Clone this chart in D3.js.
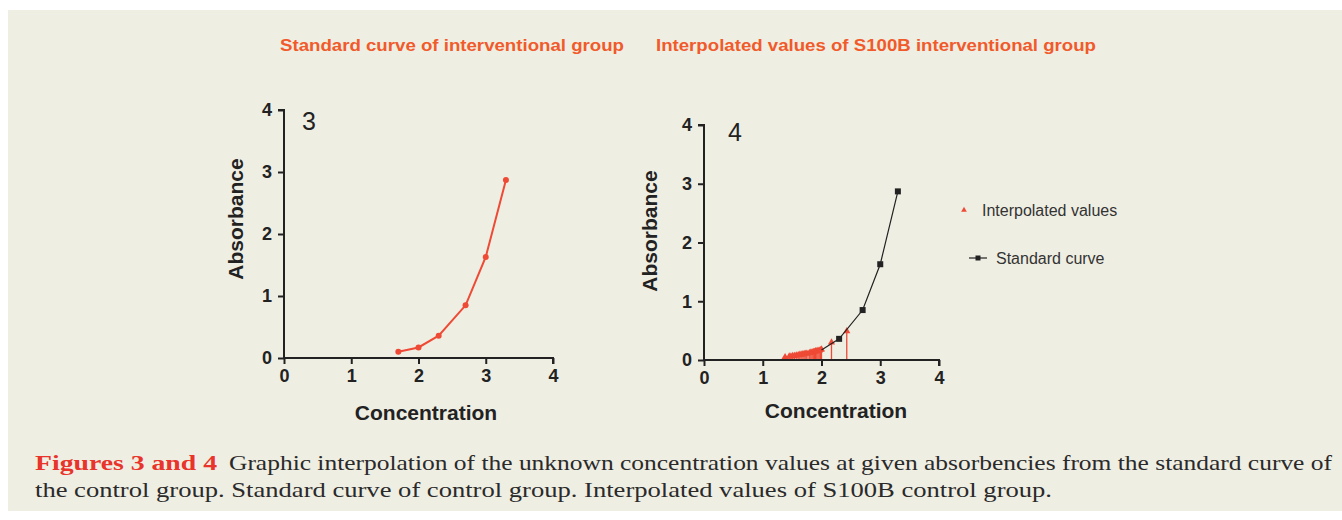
<!DOCTYPE html>
<html><head><meta charset="utf-8">
<script src="https://cdn.jsdelivr.net/npm/d3@7"></script>
<style>html,body{margin:0;padding:0;background:#fff;}svg{display:block;}</style>
</head><body>
<svg id="c" width="1342" height="520"></svg>
<script>
// ---- data ----
const titles = ["Standard curve of interventional group", "Interpolated values of S100B interventional group"];
const panelLabels = ["3", "4"];
const xTicks = [0, 1, 2, 3, 4];
const yTicks = [0, 1, 2, 3, 4];
const stdConc = [1.7, 2.0, 2.3, 2.7, 3.0, 3.3];
const stdAbs  = [0.10, 0.17, 0.36, 0.85, 1.63, 2.87];
const std2Conc = [2.0, 2.3, 2.7, 3.0, 3.3];
const std2Abs  = [0.17, 0.36, 0.85, 1.63, 2.87];
const interpConc = [1.38, 1.45, 1.48, 1.51, 1.54, 1.57, 1.60, 1.62, 1.65, 1.67, 1.70, 1.72, 1.74, 1.77, 1.80, 1.82, 1.84, 1.86, 1.88, 1.90, 1.92, 1.94, 1.96, 1.98, 2.00, 2.17, 2.43];
const interpAbs  = [0.05, 0.06, 0.06, 0.07, 0.07, 0.08, 0.08, 0.09, 0.09, 0.10, 0.10, 0.11, 0.11, 0.11, 0.12, 0.13, 0.13, 0.14, 0.14, 0.15, 0.15, 0.16, 0.16, 0.17, 0.18, 0.30, 0.49];
const legendLabels = ["Interpolated values", "Standard curve"];
const captionLead = "Figures 3 and 4";
const captionLine1 = "Graphic interpolation of the unknown concentration values at given absorbencies from the standard curve of";
const captionLine2 = "the control group. Standard curve of control group. Interpolated  values of S100B control group.";

const svg = d3.select("#c");
const RED = "#ee4a35", TITLE = "#f15a2b", INK = "#222";
svg.append("rect").attr("x", 8).attr("y", 10).attr("width", 1334).attr("height", 501).attr("fill", "#efeee3");

svg.append("text").attr("x", 280).attr("y", 51).attr("fill", TITLE)
  .attr("font-family", "Liberation Sans, Arial, sans-serif").attr("font-weight", "bold").attr("font-size", 17)
  .attr("textLength", 344).attr("lengthAdjust", "spacingAndGlyphs").text(titles[0]);
svg.append("text").attr("x", 656).attr("y", 51).attr("fill", TITLE)
  .attr("font-family", "Liberation Sans, Arial, sans-serif").attr("font-weight", "bold").attr("font-size", 17)
  .attr("textLength", 440).attr("lengthAdjust", "spacingAndGlyphs").text(titles[1]);

function drawAxes(g, x, y, label, opts) {
  const font = "Liberation Sans, Arial, sans-serif";
  const xa = g.append("g").attr("transform", `translate(0,${y.range()[0]})`)
    .call(d3.axisBottom(x).tickValues(xTicks).tickFormat(d3.format("d")).tickSize(6).tickPadding(5));
  const ya = g.append("g").attr("transform", `translate(${x.range()[0]},0)`)
    .call(d3.axisLeft(y).tickValues(yTicks).tickFormat(d3.format("d")).tickSize(6).tickPadding(6));
  [xa, ya].forEach(a => {
    a.select(".domain").attr("stroke", INK).attr("stroke-width", 2);
    a.selectAll(".tick line").attr("stroke", INK).attr("stroke-width", 2);
    a.selectAll(".tick text").attr("fill", INK).attr("font-family", font).attr("font-weight", "bold").attr("font-size", 18);
  });
  ya.select(".domain").attr("d", `M-6,${y(4)}H0V${y(0)}`);
  xa.select(".domain").attr("d", `M0,0H${x(4)-x(0)}V6`).attr("transform", `translate(${x(0)},0)`);
  g.append("text").attr("x", opts.xLabelX).attr("y", opts.xLabelY).attr("text-anchor", "middle")
    .attr("fill", INK).attr("font-family", font).attr("font-weight", "bold").attr("font-size", 21).text("Concentration");
  g.append("text").attr("transform", `translate(${opts.yLabelX},${opts.yLabelY}) rotate(-90)`).attr("text-anchor", "middle")
    .attr("fill", INK).attr("font-family", font).attr("font-weight", "bold").attr("font-size", 21).text("Absorbance");
  g.append("text").attr("x", opts.lblX).attr("y", opts.lblY).attr("fill", INK)
    .attr("font-family", font).attr("font-size", 25).text(label);
}

// ---- Chart 3 ----
const x1 = d3.scaleLinear().domain([0, 4]).range([284, 553]);
const y1 = d3.scaleLinear().domain([0, 4]).range([358, 110]);
const g1 = svg.append("g");
drawAxes(g1, x1, y1, panelLabels[0], {xLabelX: 426, xLabelY: 420, yLabelX: 243, yLabelY: 219, lblX: 302, lblY: 130});
const pts1 = stdConc.map((c, i) => [c, stdAbs[i]]);
g1.append("path").datum(pts1).attr("fill", "none").attr("stroke", RED).attr("stroke-width", 2)
  .attr("d", d3.line().x(d => x1(d[0])).y(d => y1(d[1])));
g1.selectAll("circle.p").data(pts1).join("circle").attr("cx", d => x1(d[0])).attr("cy", d => y1(d[1]))
  .attr("r", 3).attr("fill", RED);

// ---- Chart 4 ----
const x2 = d3.scaleLinear().domain([0, 4]).range([704, 939]);
const y2 = d3.scaleLinear().domain([0, 4]).range([360, 125]);
const g2 = svg.append("g");
const ip = interpConc.map((c, i) => [c, interpAbs[i]]);
g2.selectAll("line.drop").data(ip).join("line").attr("x1", d => x2(d[0])).attr("x2", d => x2(d[0]))
  .attr("y1", d => y2(d[1])).attr("y2", y2(0)).attr("stroke", RED).attr("stroke-width", 1.3);
const tri = d3.symbol().type(d3.symbolTriangle).size(22);
g2.selectAll("path.tri").data(ip).join("path").attr("d", tri)
  .attr("transform", d => `translate(${x2(d[0])},${y2(d[1])})`).attr("fill", RED);
const pts2 = std2Conc.map((c, i) => [c, std2Abs[i]]);
g2.append("path").datum(pts2).attr("fill", "none").attr("stroke", INK).attr("stroke-width", 1.2)
  .attr("d", d3.line().x(d => x2(d[0])).y(d => y2(d[1])));
g2.selectAll("rect.m").data(pts2.slice(1)).join("rect").attr("x", d => x2(d[0]) - 3).attr("y", d => y2(d[1]) - 3)
  .attr("width", 6).attr("height", 6).attr("fill", INK);
drawAxes(g2, x2, y2, panelLabels[1], {xLabelX: 836, xLabelY: 418, yLabelX: 657, yLabelY: 231, lblX: 728, lblY: 141});

// legend
const lg = svg.append("g");
lg.append("path").attr("d", d3.symbol().type(d3.symbolTriangle).size(14)).attr("transform", "translate(964,210)").attr("fill", RED);
lg.append("text").attr("x", 982).attr("y", 216).attr("fill", "#333").attr("font-family", "Liberation Sans, Arial, sans-serif")
  .attr("font-size", 16).text(legendLabels[0]);
lg.append("line").attr("x1", 969).attr("x2", 987).attr("y1", 258).attr("y2", 258).attr("stroke", INK).attr("stroke-width", 1.2);
lg.append("rect").attr("x", 975.5).attr("y", 255.5).attr("width", 5).attr("height", 5).attr("fill", INK);
lg.append("text").attr("x", 996).attr("y", 264).attr("fill", "#333").attr("font-family", "Liberation Sans, Arial, sans-serif")
  .attr("font-size", 16).text(legendLabels[1]);

// caption
const serif = "'Liberation Serif', 'Times New Roman', serif";
svg.append("text").attr("x", 35).attr("y", 470).attr("fill", "#e8342a").attr("font-family", serif).attr("font-weight", "bold")
  .attr("font-size", 21).attr("textLength", 182).attr("lengthAdjust", "spacingAndGlyphs").text(captionLead);
svg.append("text").attr("x", 229).attr("y", 470).attr("fill", "#2a2a2a").attr("font-family", serif)
  .attr("font-size", 21).attr("textLength", 1103).attr("lengthAdjust", "spacingAndGlyphs").text(captionLine1);
svg.append("text").attr("x", 35).attr("y", 497).attr("fill", "#2a2a2a").attr("font-family", serif)
  .attr("font-size", 21).attr("textLength", 1017).attr("lengthAdjust", "spacingAndGlyphs").text(captionLine2);
</script>
</body></html>
